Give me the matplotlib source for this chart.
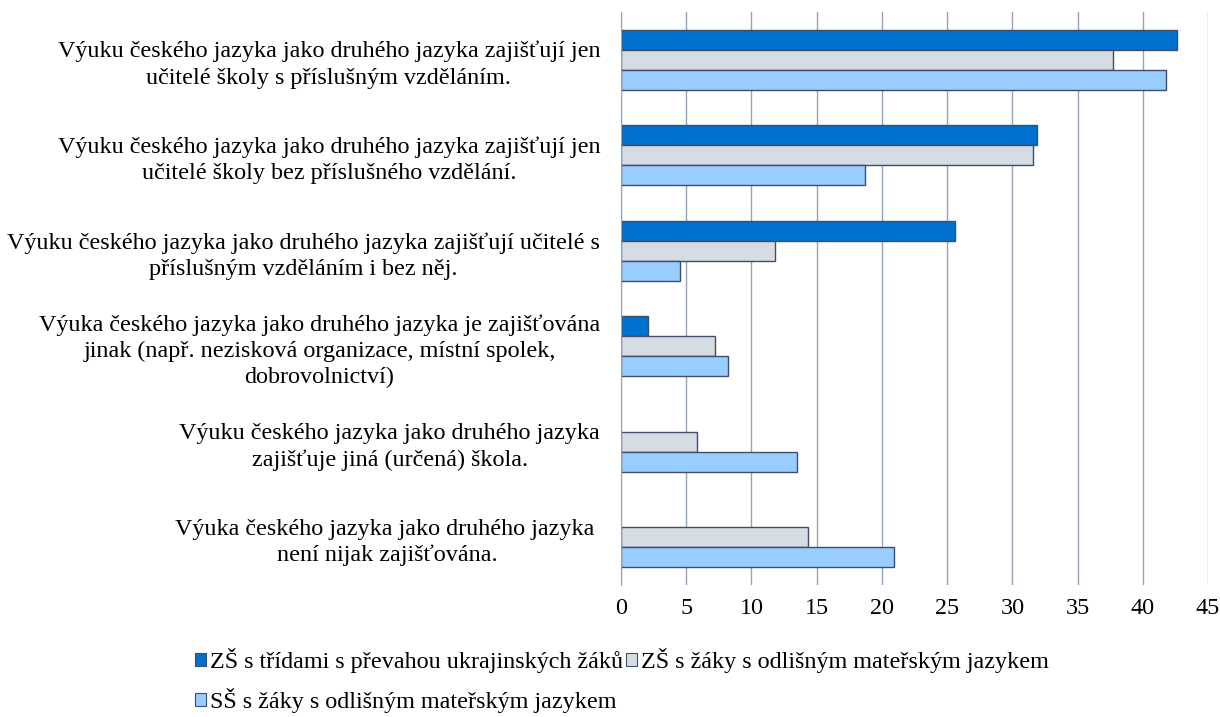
import numpy as np
import matplotlib
matplotlib.use("Agg")
from matplotlib import pyplot as plt
from matplotlib.patches import Patch

plt.rcParams['font.family'] = ['Liberation Serif', 'DejaVu Serif']

categories = [
    "Výuku českého jazyka jako druhého jazyka zajišťují jen\nučitelé školy s příslušným vzděláním.",
    "Výuku českého jazyka jako druhého jazyka zajišťují jen\nučitelé školy bez příslušného vzdělání.",
    "Výuku českého jazyka jako druhého jazyka zajišťují učitelé s\npříslušným vzděláním i bez něj.",
    "Výuka českého jazyka jako druhého jazyka je zajišťována\njinak (např. nezisková organizace, místní spolek,\ndobrovolnictví)",
    "Výuku českého jazyka jako druhého jazyka\nzajišťuje jiná (určená) škola.",
    "Výuka českého jazyka jako druhého jazyka \nnení nijak zajišťována.",
]
zs_ukr = [42.6, 31.9, 25.6, 2.1, 0, 0]
zs_odl = [37.7, 31.6, 11.8, 7.2, 5.8, 14.3]
ss_odl = [41.8, 18.7, 4.5, 8.2, 13.5, 20.9]
series_names = ["ZŠ s třídami s převahou ukrajinských žáků",
                "ZŠ s žáky s odlišným mateřským jazykem",
                "SŠ s žáky s odlišným mateřským jazykem"]
colors = ["#0071ce", "#d6dce4", "#99ccff"]
edge = "#3f4d66"
fs = 17.4

fig = plt.figure(figsize=(12.2, 7.17), dpi=100)
ax = fig.add_axes([621 / 1220, 1 - 585 / 717, 587 / 1220, 573 / 717])

y = np.arange(len(categories))
h = 0.21
for k, (vals, c) in enumerate(zip([zs_ukr, zs_odl, ss_odl], colors)):
    vals = np.array(vals, dtype=float)
    m = vals > 0
    ax.barh(y[m] + (k - 1) * h, vals[m], height=h, color=c,
            edgecolor=edge, linewidth=1.0, zorder=3)

ax.set_xlim(0, 45)
ax.set_ylim(len(categories) - 0.5, -0.5)
ax.set_xticks(np.arange(0, 46, 5))
ax.set_yticks(y)
ax.set_yticklabels(categories, ha='right', multialignment='center',
                   linespacing=1.32)
ax.tick_params(axis='both', length=0, labelsize=fs)
ax.tick_params(axis='y', pad=15)
ax.tick_params(axis='x', pad=9)
ax.grid(axis='x', color="#97a3bb", linewidth=1.0, zorder=0)
for s in ['top', 'right', 'bottom']:
    ax.spines[s].set_visible(False)
ax.spines['left'].set_color("#97a3bb")
ax.spines['left'].set_zorder(4)

handles = [Patch(facecolor=c, edgecolor=edge, linewidth=0.8) for c in colors]
order = [0, 2, 1]
fig.legend([handles[i] for i in order], [series_names[i] for i in order],
           loc='upper left', bbox_to_anchor=(0.160, 0.096), ncol=2,
           frameon=False, fontsize=fs, handlelength=0.45, handleheight=0.45,
           handletextpad=0.15, columnspacing=0.15, labelspacing=0.6,
           borderaxespad=0, borderpad=0)

fig.savefig("out.png", dpi=100)
